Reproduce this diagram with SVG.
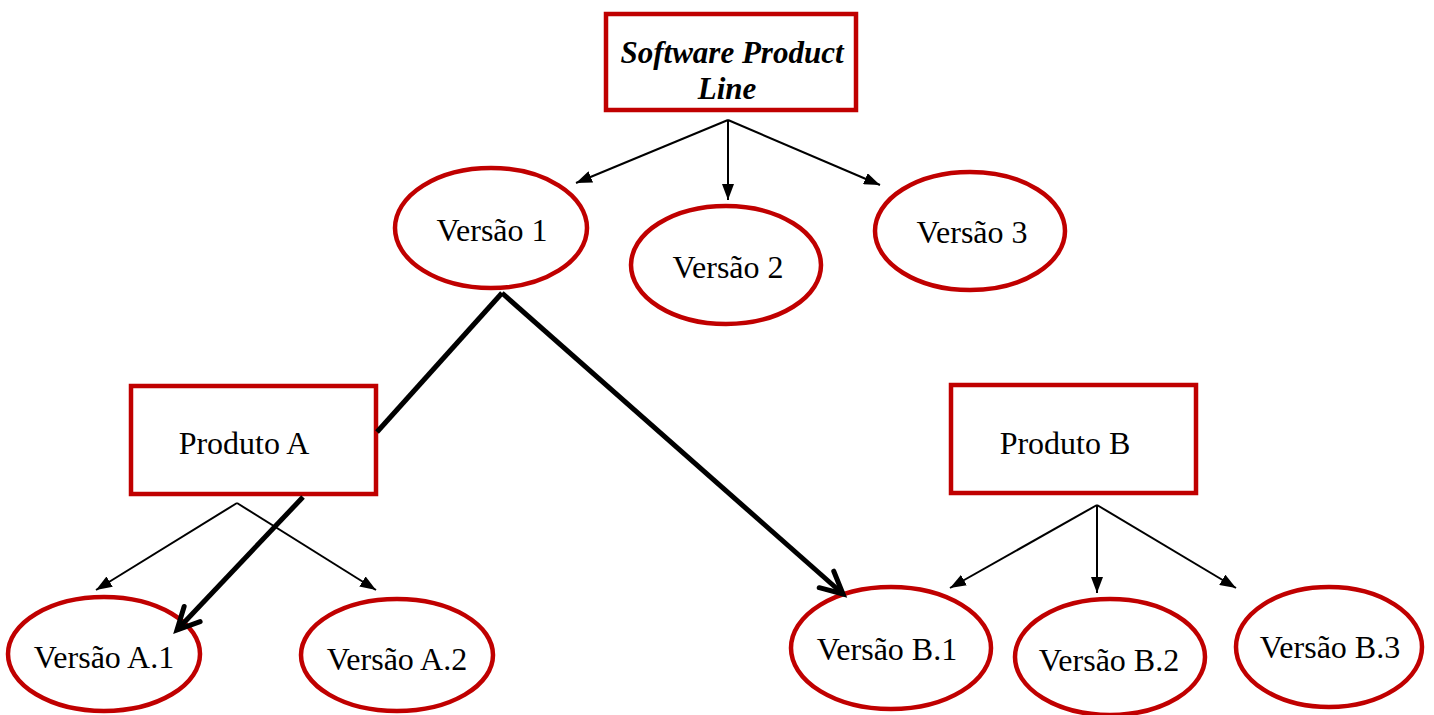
<svg xmlns="http://www.w3.org/2000/svg" width="1434" height="715" viewBox="0 0 1434 715">
  <style>
    .box { fill: #ffffff; stroke: #c00000; stroke-width: 4.5; }
    .oval { fill: #ffffff; stroke: #c00000; stroke-width: 4.5; }
    .lbl { font-family: "Liberation Serif", "Times New Roman", serif; font-size: 32px; fill: #000000; text-anchor: middle; }
    .title { font-family: "Liberation Serif", "Times New Roman", serif; font-size: 31px; font-weight: bold; font-style: italic; fill: #000000; text-anchor: middle; }
    .thin { stroke: #000000; stroke-width: 2; fill: none; marker-end: url(#tri); }
    .thick { stroke: #000000; stroke-width: 5; fill: none; }
    .thickarrow { stroke: #000000; stroke-width: 5; fill: none; marker-end: url(#chev); }
  </style>
  <defs>
    <marker id="tri" viewBox="0 0 16 12" refX="16" refY="6" markerWidth="16" markerHeight="12" markerUnits="userSpaceOnUse" orient="auto">
      <path d="M0,0 L16,6 L0,12 Z" fill="#000000"/>
    </marker>
    <marker id="chev" viewBox="-4 -4 36 36" refX="24" refY="13" markerWidth="36" markerHeight="36" markerUnits="userSpaceOnUse" orient="auto" overflow="visible">
      <path d="M2,2 L24,13 L2,24" fill="none" stroke="#000000" stroke-width="5" stroke-linecap="round" stroke-linejoin="miter"/>
    </marker>
  </defs>

  <g id="spl">
    <rect class="box" x="606" y="14" width="250" height="96"/>
    <text class="title" x="732" y="63">Software Product</text>
    <text class="title" x="727" y="99">Line</text>
  </g>

  <g id="versao1">
    <ellipse class="oval" cx="491" cy="228" rx="96" ry="60"/>
    <text class="lbl" x="492" y="241">Versão 1</text>
  </g>
  <g id="versao2">
    <ellipse class="oval" cx="726" cy="265" rx="95" ry="59"/>
    <text class="lbl" x="728" y="278">Versão 2</text>
  </g>
  <g id="versao3">
    <ellipse class="oval" cx="970" cy="231" rx="95" ry="59"/>
    <text class="lbl" x="972" y="243">Versão 3</text>
  </g>

  <g id="produtoA">
    <rect class="box" x="131" y="386" width="245" height="108"/>
    <text class="lbl" x="244" y="454">Produto A</text>
  </g>
  <g id="produtoB">
    <rect class="box" x="951" y="385" width="245" height="108"/>
    <text class="lbl" x="1065" y="454">Produto B</text>
  </g>

  <g id="versaoA1">
    <ellipse class="oval" cx="104" cy="654" rx="96" ry="57"/>
    <text class="lbl" x="104" y="668">Versão A.1</text>
  </g>
  <g id="versaoA2">
    <ellipse class="oval" cx="397" cy="655" rx="96" ry="56"/>
    <text class="lbl" x="397" y="670">Versão A.2</text>
  </g>
  <g id="versaoB1">
    <ellipse class="oval" cx="891" cy="648" rx="100" ry="61"/>
    <text class="lbl" x="887" y="660">Versão B.1</text>
  </g>
  <g id="versaoB2">
    <ellipse class="oval" cx="1110" cy="657" rx="95" ry="58"/>
    <text class="lbl" x="1109" y="671">Versão B.2</text>
  </g>
  <g id="versaoB3">
    <ellipse class="oval" cx="1329" cy="647" rx="93" ry="60"/>
    <text class="lbl" x="1330" y="658">Versão B.3</text>
  </g>

  <!-- connectors drawn last so arrowheads sit on top of the node outlines -->
  <g id="connectors">
    <!-- product line to versions -->
    <line class="thin" x1="728" y1="120" x2="576" y2="183"/>
    <line class="thin" x1="728" y1="120" x2="728" y2="200"/>
    <line class="thin" x1="728" y1="120" x2="880" y2="185"/>
    <!-- version 1 to products -->
    <line class="thick" x1="502" y1="293" x2="377" y2="432"/>
    <line class="thickarrow" x1="502" y1="293" x2="843" y2="594"/>
    <!-- product A to its versions -->
    <line class="thin" x1="237" y1="503" x2="96" y2="590"/>
    <line class="thin" x1="237" y1="503" x2="376" y2="590"/>
    <line class="thickarrow" x1="303" y1="497" x2="177" y2="630"/>
    <!-- product B to its versions -->
    <line class="thin" x1="1097" y1="505" x2="950" y2="588"/>
    <line class="thin" x1="1097" y1="505" x2="1097" y2="593"/>
    <line class="thin" x1="1097" y1="505" x2="1236" y2="588"/>
  </g>
</svg>
